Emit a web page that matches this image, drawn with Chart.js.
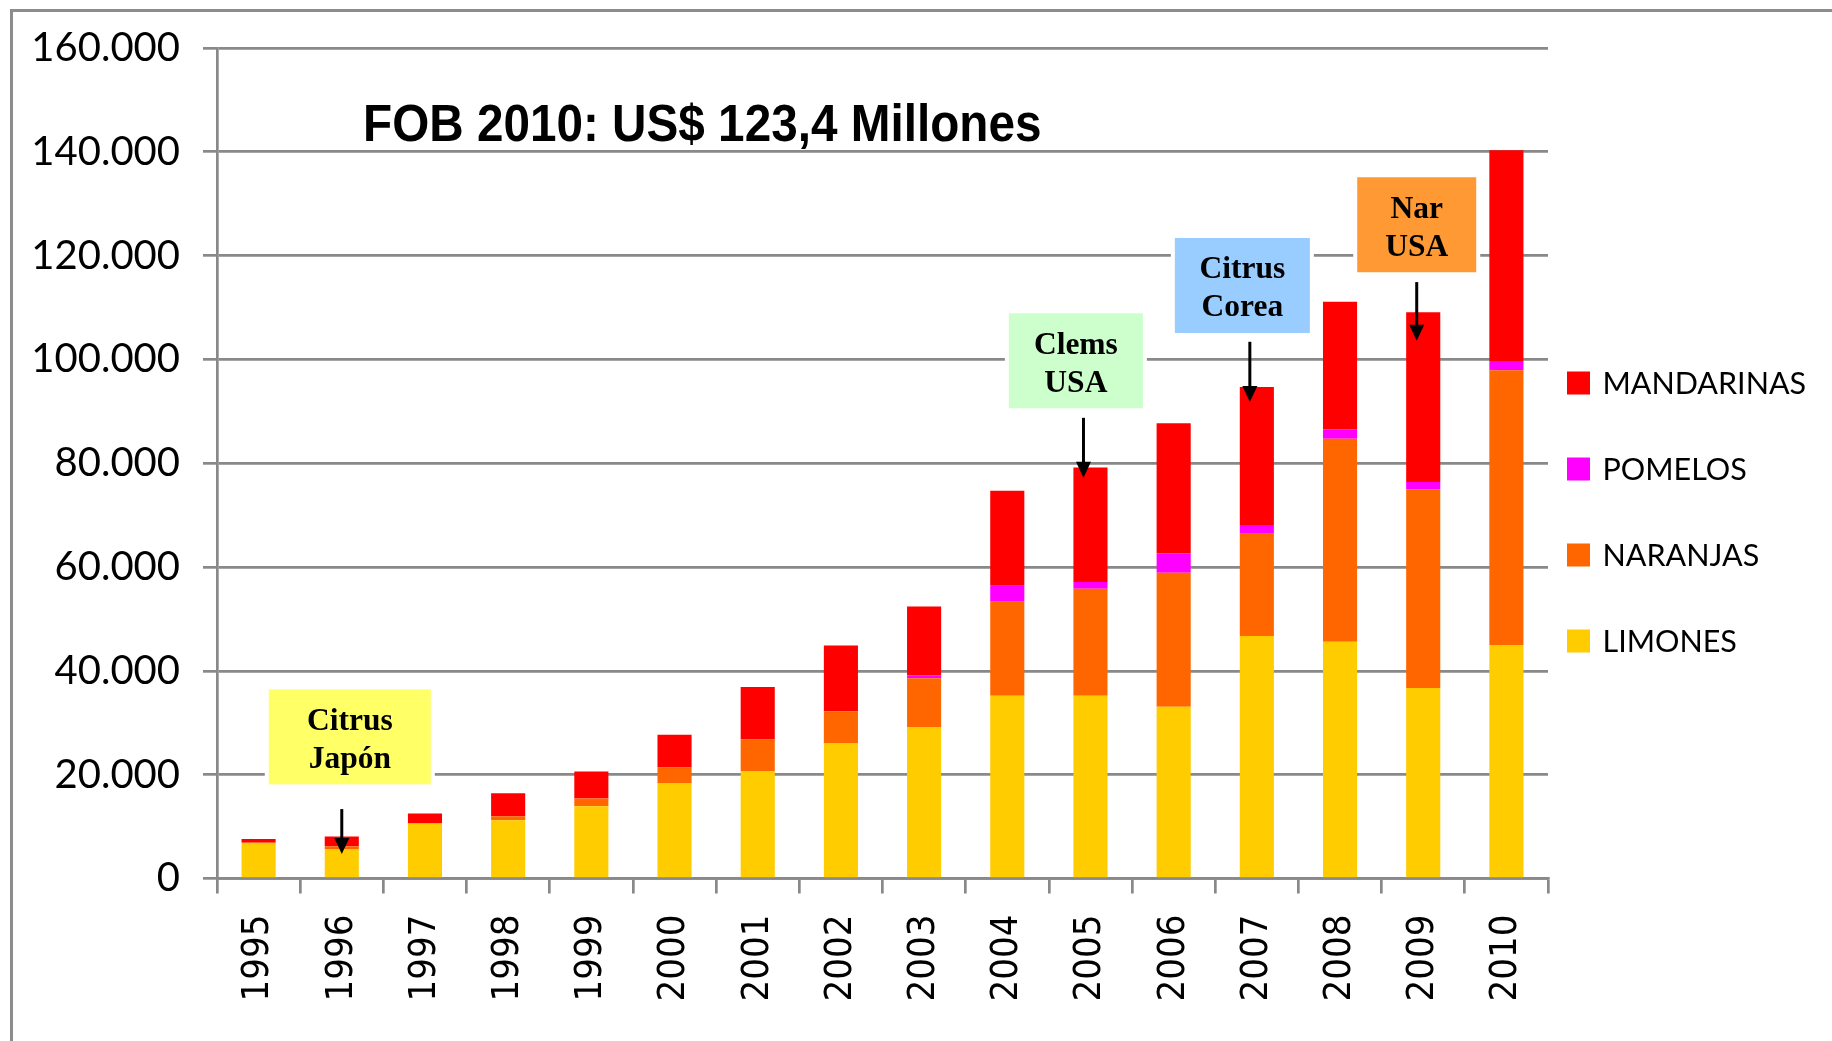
<!DOCTYPE html>
<html><head><meta charset="utf-8">
<script src="https://cdn.jsdelivr.net/npm/chart.js@4.4.0/dist/chart.umd.min.js"></script>
<style>html,body{margin:0;padding:0;background:#fff;overflow:hidden}#wrap{width:1832px;height:1041px;position:relative}</style>
</head><body><div id="wrap"><canvas id="c"></canvas></div>
<script>
// ---- data (US$ miles) ----
const years = ['1995','1996','1997','1998','1999','2000','2001','2002','2003','2004','2005','2006','2007','2008','2009','2010'];
const limones    = [6900, 5600, 10600, 11200, 13900, 18300, 20600, 26000, 29200, 35200, 35200, 33100, 46700, 45600, 36700, 45000];
const naranjas   = [0, 600, 0, 800, 1500, 3100, 6200, 6200, 9400, 18100, 20600, 25800, 19700, 39100, 38300, 52900];
const pomelos    = [0, 0, 0, 0, 0, 0, 0, 0, 500, 3100, 1300, 3700, 1700, 1800, 1400, 1800];
const mandarinas = [700, 1900, 1900, 4400, 5200, 6300, 10100, 12700, 13300, 18300, 22100, 25100, 26600, 24600, 32700, 40600];
const seriesNames = ['LIMONES','NARANJAS','POMELOS','MANDARINAS'];
const yTicks = [0, 20000, 40000, 60000, 80000, 100000, 120000, 140000, 160000];
const titleText = 'FOB 2010: US$ 123,4 Millones';
const notes = [
  {year:'1996', lines:['Citrus','Japón'], top:36440, arrowFrom:13370, arrowTo:4710},
  {year:'2005', lines:['Clems','USA'],    top:108900, arrowFrom:88750, arrowTo:77200},
  {year:'2007', lines:['Citrus','Corea'], top:123400, arrowFrom:103400, arrowTo:91800},
  {year:'2009', lines:['Nar','USA'],      top:135100, arrowFrom:114900, arrowTo:103600}
];

// ---- styles ----
const COLORS = ['#FFCC00','#FF6600','#FF00FF','#FF0000'];
const NOTE_STYLE = [
  {fill:'#FFFF66', boxDx:8,     w:162, arrowDx:0},
  {fill:'#CCFFCC', boxDx:-14.6, w:134, arrowDx:-7},
  {fill:'#99CCFF', boxDx:-14.5, w:135, arrowDx:-7},
  {fill:'#FF9933', boxDx:-6.5,  w:119, arrowDx:-6.5}
];
const GRID = '#898989';
const fmt = v => String(v).replace(/\B(?=(\d{3})+(?!\d))/g, '.');

const extras = {
  id:'extras',
  afterDraw(chart){
    const c = chart.ctx, xs = chart.scales.x, ys = chart.scales.y;
    c.save();
    // outer frame (left + top)
    c.strokeStyle = '#8c8c8c'; c.lineWidth = 3;
    c.beginPath(); c.moveTo(11.5, 1041); c.lineTo(11.5, 10.5); c.lineTo(1832, 10.5); c.stroke();
    // title
    c.save();
    c.fillStyle = '#000'; c.font = 'bold 51px "Liberation Sans", Arial, sans-serif';
    c.textBaseline = 'alphabetic'; c.textAlign = 'left';
    c.translate(363, 140.5); c.scale(0.935, 1); c.fillText(titleText, 0, 0);
    c.restore();
    // annotations
    notes.forEach((n, i) => {
      const st = NOTE_STYLE[i];
      const idx = years.indexOf(n.year);
      const cx = xs.getPixelForValue(idx);
      const bx = cx + st.boxDx - st.w/2, by = ys.getPixelForValue(n.top), bh = 95;
      c.fillStyle = '#fff'; c.fillRect(bx-4, by-4, st.w+8, bh+8);
      c.fillStyle = st.fill; c.fillRect(bx, by, st.w, bh);
      c.fillStyle = '#000'; c.font = 'bold 31.5px "Liberation Serif", "Times New Roman", serif';
      c.textAlign = 'center'; c.textBaseline = 'alphabetic';
      c.fillText(n.lines[0], bx + st.w/2, by + 40.5);
      c.fillText(n.lines[1], bx + st.w/2, by + 78.5);
      // arrow
      const ax = cx + st.arrowDx, y1 = ys.getPixelForValue(n.arrowFrom), y2 = ys.getPixelForValue(n.arrowTo);
      c.strokeStyle = '#000'; c.lineWidth = 3;
      c.beginPath(); c.moveTo(ax, y1); c.lineTo(ax, y2 - 12); c.stroke();
      c.beginPath(); c.moveTo(ax - 7.5, y2 - 16); c.lineTo(ax + 7.5, y2 - 16); c.lineTo(ax, y2); c.closePath(); c.fill();
    });
    // legend (reverse order)
    const lx = 1567, ly0 = 383, step = 86;
    c.font = '30.5px Lato, "Open Sans", sans-serif'; c.textAlign = 'left'; c.textBaseline = 'middle';
    for (let k = 0; k < 4; k++) {
      const s = 3 - k, cy = ly0 + step*k;
      c.fillStyle = COLORS[s]; c.fillRect(lx, cy - 11.5, 23, 23);
      c.fillStyle = '#000'; c.fillText(seriesNames[s], 1602.5, cy + 1);
    }
    c.restore();
  }
};

function build(){
  new Chart(document.getElementById('c'), {
    type:'bar',
    data:{labels:years, datasets:[
      {label:seriesNames[0], data:limones,    backgroundColor:COLORS[0]},
      {label:seriesNames[1], data:naranjas,   backgroundColor:COLORS[1]},
      {label:seriesNames[2], data:pomelos,    backgroundColor:COLORS[2]},
      {label:seriesNames[3], data:mandarinas, backgroundColor:COLORS[3]}
    ]},
    options:{
      responsive:true, maintainAspectRatio:false, animation:false,
      layout:{padding:{top:48, right:284, bottom:0, left:0}},
      datasets:{bar:{barPercentage:0.41, categoryPercentage:1, borderWidth:0}},
      plugins:{legend:{display:false}, tooltip:{enabled:false}, title:{display:false}},
      scales:{
        x:{stacked:true, offset:true,
          grid:{display:true, drawOnChartArea:false, drawTicks:true, tickLength:15, offset:true, color:GRID, lineWidth:2.7},
          border:{display:true, color:GRID, width:2.7},
          ticks:{minRotation:90, maxRotation:90, autoSkip:false, padding:21, color:'#000',
                 font:{family:"'DejaVu Sans Condensed','DejaVu Sans'", size:38}},
          afterFit(s){ s.height = 162.5; s.paddingLeft = 0; s.paddingRight = 0; }
        },
        y:{stacked:true, min:0, max:yTicks[yTicks.length-1],
          afterBuildTicks(s){ s.ticks = yTicks.map(v => ({value:v})); },
          ticks:{padding:23, color:'#000', font:{family:'Lato', size:40}, callback:v => fmt(v)},
          grid:{color:GRID, lineWidth:2.7, tickLength:14, drawTicks:true},
          border:{display:true, color:GRID, width:2.7},
          afterFit(s){ s.width = 217; s.paddingTop = 0; s.paddingBottom = 0; }
        }
      }
    },
    plugins:[extras]
  });
}
const fl = ['40px Lato','30.5px Lato','bold 51px "Liberation Sans"','bold 31.5px "Liberation Serif"',"38px 'DejaVu Sans Condensed'","38px 'DejaVu Sans'"];
Promise.all(fl.map(f => document.fonts.load(f).catch(()=>null))).then(build, build);
</script>
</body></html>
